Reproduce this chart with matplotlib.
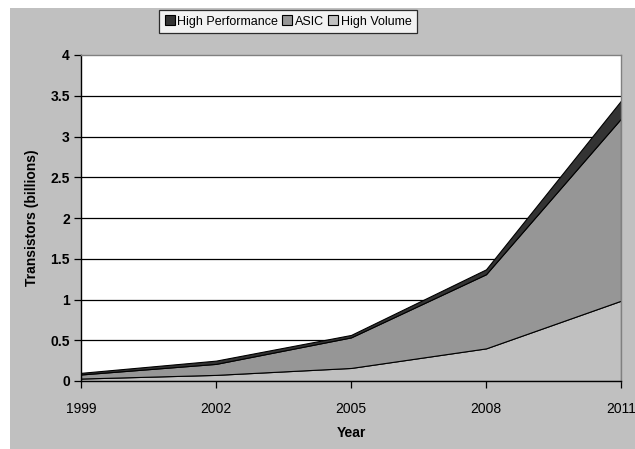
import matplotlib
matplotlib.use("Agg")
import matplotlib.pyplot as plt
from matplotlib.patches import Rectangle, Patch

plt.rcParams['font.family'] = ['Liberation Sans', 'DejaVu Sans']

years = [1999, 2002, 2005, 2008, 2011]
high_volume = [0.03, 0.075, 0.16, 0.40, 0.985]
asic = [0.05, 0.135, 0.375, 0.91, 2.235]
high_performance = [0.02, 0.04, 0.03, 0.06, 0.22]

series_names = ["High Performance", "ASIC", "High Volume"]
colors = {"High Volume": "#c0c0c0", "ASIC": "#969696", "High Performance": "#333333"}

fig = plt.figure(figsize=(6.35, 4.49), dpi=100, facecolor="white")
fig.patches.append(Rectangle((10 / 635, 0), 1, (449 - 8) / 449,
                             transform=fig.transFigure, facecolor="#c0c0c0",
                             edgecolor="none", zorder=-10))

ax = fig.add_axes([81 / 635, 1 - 381 / 449, (621 - 81) / 635, (381 - 55) / 449])
ax.set_zorder(1)
ax.set_facecolor("white")

base = [0.0] * len(years)
top1 = [b + v for b, v in zip(base, high_volume)]
top2 = [b + v for b, v in zip(top1, asic)]
top3 = [b + v for b, v in zip(top2, high_performance)]

for y in [0.5, 1, 1.5, 2, 2.5, 3, 3.5]:
    ax.axhline(y, color="black", lw=0.9, zorder=1)

ax.fill_between(years, base, top1, facecolor=colors["High Volume"],
                edgecolor="black", lw=0.8, zorder=2)
ax.fill_between(years, top1, top2, facecolor=colors["ASIC"],
                edgecolor="black", lw=0.8, zorder=2)
ax.fill_between(years, top2, top3, facecolor=colors["High Performance"],
                edgecolor="black", lw=0.8, zorder=2)

ax.set_xlim(1999, 2011)
ax.set_ylim(0, 4)
ax.set_xticks(years)
ax.set_xticklabels([str(y) for y in years], fontsize=10)
ax.set_yticks([0, 0.5, 1, 1.5, 2, 2.5, 3, 3.5, 4])
ax.set_yticklabels(["0", "0.5", "1", "1.5", "2", "2.5", "3", "3.5", "4"],
                   fontsize=10, fontweight="bold")
ax.tick_params(axis="x", direction="out", length=5, width=0.9, pad=10)
ax.tick_params(axis="y", direction="out", length=5, width=0.9, pad=3)

for side in ["top", "right"]:
    ax.spines[side].set_color("#808080")
    ax.spines[side].set_linewidth(1.0)
for side in ["left", "bottom"]:
    ax.spines[side].set_color("black")
    ax.spines[side].set_linewidth(1.0)

ax.set_xlabel("Year", fontsize=10, fontweight="bold", labelpad=7)
ax.set_ylabel("Transistors (billions)", fontsize=10, fontweight="bold", labelpad=8)

handles = [Patch(facecolor=colors[n], edgecolor="black", lw=0.8) for n in series_names]
leg = fig.legend(handles, series_names, loc="center", ncol=3,
                 bbox_to_anchor=(288 / 635, 1 - 21.5 / 449), frameon=True,
                 fancybox=False, fontsize=9, handlelength=0.8, handleheight=0.8,
                 handletextpad=0.2, columnspacing=0.35, borderpad=0.45,
                 borderaxespad=0)
leg.get_frame().set_edgecolor("black")
leg.get_frame().set_linewidth(0.9)
leg.get_frame().set_facecolor("white")

fig.savefig("out.png", dpi=100, facecolor=fig.get_facecolor())
